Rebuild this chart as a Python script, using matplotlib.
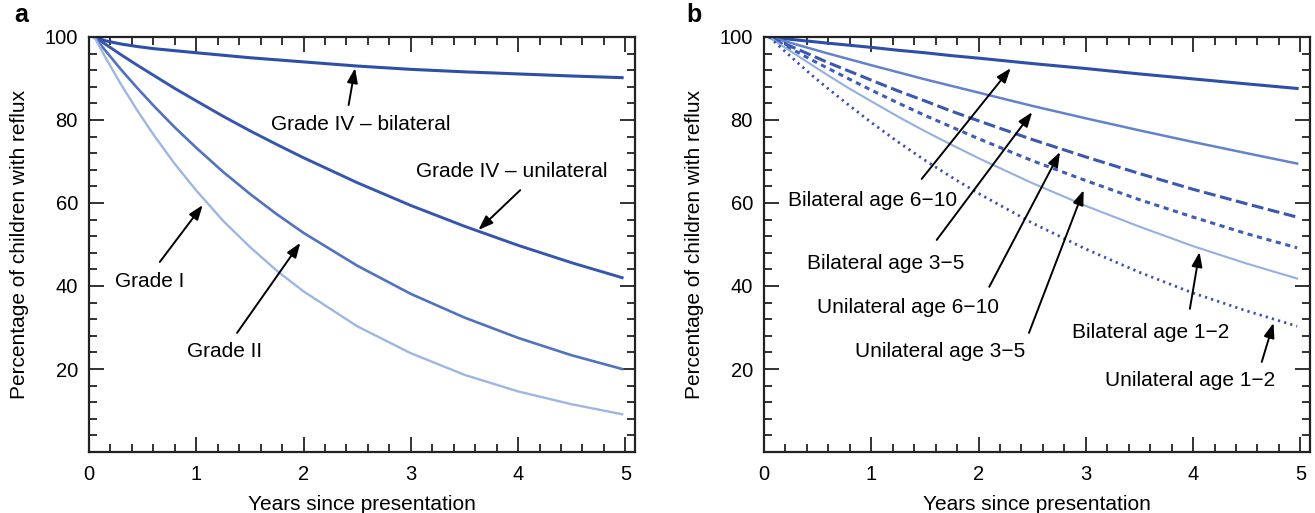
import matplotlib
matplotlib.use("Agg")
import matplotlib.pyplot as plt
from matplotlib.ticker import MultipleLocator

plt.rcParams['font.family'] = ['Liberation Sans', 'DejaVu Sans']

# years since presentation (sample points)
years = [0.05, 0.15, 0.3, 0.45, 0.6, 0.8, 1.0, 1.25, 1.5, 1.75, 2.0, 2.5, 3.0, 3.5, 4.0, 4.5, 4.97]

# panel a - by grade
grade_iv_bil = [100, 99.1, 98.3, 97.7, 97.2, 96.7, 96.2, 95.6, 95.0, 94.5, 94.0, 93.0, 92.2, 91.6, 91.1, 90.6, 90.2]
grade_iv_uni = [100, 98.3, 95.7, 93.2, 90.8, 87.6, 84.6, 80.9, 77.4, 74.1, 70.9, 64.9, 59.4, 54.4, 49.8, 45.6, 42.0]
grade_ii = [100, 96.8, 92.1, 87.7, 83.5, 78.2, 73.3, 67.5, 62.2, 57.3, 52.8, 44.9, 38.1, 32.4, 27.5, 23.3, 20.0]
grade_i = [100, 95.2, 88.5, 82.3, 76.5, 69.4, 63.0, 55.7, 49.4, 43.7, 38.7, 30.3, 23.8, 18.6, 14.6, 11.5, 9.1]

# panel b - by age and side
bil_6_10 = [100, 99.7, 99.3, 98.9, 98.5, 98.0, 97.5, 96.8, 96.2, 95.5, 94.9, 93.6, 92.4, 91.1, 89.9, 88.7, 87.6]
bil_3_5 = [100, 99.3, 98.2, 97.1, 96.0, 94.6, 93.2, 91.5, 89.8, 88.2, 86.6, 83.4, 80.4, 77.5, 74.7, 72.0, 69.5]
uni_6_10 = [100, 98.8, 97.2, 95.5, 93.8, 91.7, 89.6, 87.0, 84.6, 82.1, 79.8, 75.3, 71.1, 67.1, 63.3, 59.8, 56.6]
uni_3_5 = [100, 98.6, 96.5, 94.4, 92.4, 89.8, 87.2, 84.1, 81.1, 78.3, 75.5, 70.2, 65.4, 60.8, 56.6, 52.6, 49.2]
bil_1_2 = [100, 98.2, 95.7, 93.2, 90.7, 87.5, 84.5, 80.8, 77.3, 74.0, 70.8, 64.8, 59.3, 54.3, 49.6, 45.4, 41.8]
uni_1_2 = [100, 97.6, 94.1, 90.7, 87.5, 83.4, 79.4, 74.7, 70.3, 66.2, 62.3, 55.2, 48.9, 43.3, 38.3, 34.0, 30.3]

fig = plt.figure(figsize=(13.15, 5.13), dpi=100)
ax_a = fig.add_axes([0.0677, 0.1189, 0.4152, 0.809])
ax_b = fig.add_axes([0.581, 0.1189, 0.4152, 0.809])

FS = 15
arrow = dict(arrowstyle='-|>,head_length=0.55,head_width=0.2', color='black',
             lw=1.4, mutation_scale=16, shrinkA=0, shrinkB=0)


def style_axes(ax):
    ax.set_xlim(0, 5.09)
    ax.set_ylim(0, 100)
    ax.set_xticks([0, 1, 2, 3, 4, 5])
    ax.set_yticks([20, 40, 60, 80, 100])
    ax.xaxis.set_minor_locator(MultipleLocator(0.2))
    ax.yaxis.set_minor_locator(MultipleLocator(4))
    ax.tick_params(which='both', direction='in', top=True, right=True,
                   width=1.3, color='#222222', labelsize=14.5)
    ax.tick_params(axis='x', which='major', length=11, pad=9)
    ax.tick_params(axis='y', which='major', length=11, pad=8)
    ax.tick_params(which='minor', length=6)
    for s in ax.spines.values():
        s.set_linewidth(1.6)
        s.set_color('#222222')
    ax.set_xlabel('Years since presentation', fontsize=FS, labelpad=8)
    ax.set_ylabel('Percentage of children with reflux', fontsize=FS, labelpad=11)


def label(ax, text, tx, ty, tail, tip):
    ax.text(tx, ty, text, fontsize=FS, ha='center', va='center')
    ax.annotate('', xy=tip, xytext=tail, arrowprops=arrow)


# ---- panel a
ax_a.plot(years, grade_iv_bil, color='#2d4fa8', lw=2.2)
ax_a.plot(years, grade_iv_uni, color='#3556ac', lw=2.1)
ax_a.plot(years, grade_ii, color='#5272c0', lw=1.9)
ax_a.plot(years, grade_i, color='#9db6e2', lw=1.7)
style_axes(ax_a)
label(ax_a, 'Grade IV \u2013 bilateral', 2.53, 79.0, (2.42, 83.6), (2.48, 92.5))
label(ax_a, 'Grade IV \u2013 unilateral', 3.94, 67.5, (4.02, 63.1), (3.63, 53.5))
label(ax_a, 'Grade I', 0.57, 41.0, (0.66, 45.8), (1.06, 59.5))
label(ax_a, 'Grade II', 1.26, 24.1, (1.38, 28.7), (1.97, 50.4))

# ---- panel b
ax_b.plot(years, bil_6_10, color='#2d4fa8', lw=2.2)
ax_b.plot(years, bil_3_5, color='#6283cc', lw=1.8)
ax_b.plot(years, uni_6_10, color='#3a58ad', lw=2.2, dashes=(3.9, 1.5))
ax_b.plot(years, uni_3_5, color='#3d5db8', lw=2.2, dashes=(1.7, 1.5))
ax_b.plot(years, bil_1_2, color='#93b0e2', lw=1.5)
ax_b.plot(years, uni_1_2, color='#3d4fb3', lw=2.0, dashes=(0.8, 1.5))
style_axes(ax_b)
label(ax_b, 'Bilateral age 6\u221210', 1.01, 60.7, (1.47, 65.8), (2.30, 92.5))
label(ax_b, 'Bilateral age 3\u22125', 1.13, 45.5, (1.61, 51.1), (2.50, 81.9))
label(ax_b, 'Unilateral age 6\u221210', 1.34, 34.7, (2.10, 39.8), (2.76, 72.3))
label(ax_b, 'Unilateral age 3\u22125', 1.64, 24.1, (2.47, 28.7), (2.98, 63.1))
label(ax_b, 'Bilateral age 1\u22122', 3.60, 28.9, (3.97, 34.5), (4.06, 48.2))
label(ax_b, 'Unilateral age 1\u22122', 3.97, 17.3, (4.64, 21.7), (4.75, 31.1))

fig.text(0.011, 0.97, 'a', fontsize=18, fontweight='bold', va='center')
fig.text(0.522, 0.97, 'b', fontsize=18, fontweight='bold', va='center')

fig.savefig('out.png', dpi=100)
